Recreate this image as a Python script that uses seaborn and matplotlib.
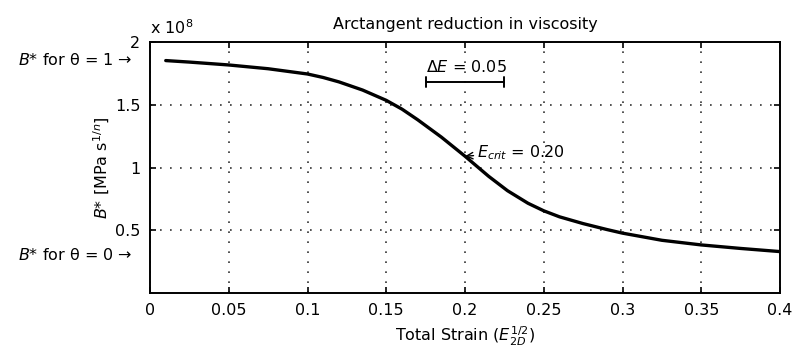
import numpy as np
import pandas as pd
import matplotlib
matplotlib.use("Agg")
import matplotlib.pyplot as plt
import seaborn as sns

# Data (B* in units of 1e8)
strain = [0.010, 0.025, 0.050, 0.075, 0.100, 0.110, 0.120, 0.135, 0.150, 0.160,
          0.170, 0.185, 0.200, 0.215, 0.227, 0.240, 0.250, 0.260, 0.275, 0.290,
          0.300, 0.325, 0.350, 0.375, 0.400]
bstar = [1.852, 1.840, 1.817, 1.787, 1.745, 1.717, 1.682, 1.617, 1.535, 1.465,
         1.380, 1.242, 1.090, 0.930, 0.815, 0.715, 0.655, 0.607, 0.553, 0.506,
         0.477, 0.420, 0.383, 0.355, 0.330]
xticks = [0, 0.05, 0.1, 0.15, 0.2, 0.25, 0.3, 0.35, 0.4]
xticklabels = ["0", "0.05", "0.1", "0.15", "0.2", "0.25", "0.3", "0.35", "0.4"]
yticks = [0.5, 1, 1.5, 2]
yticklabels = ["0.5", "1", "1.5", "2"]
theta1_level = 1.86
theta0_level = 0.30
e_crit = 0.20
e_crit_b = 1.09
delta_e = 0.05
delta_bar_y = 1.68

sns.set_style("ticks")
plt.rcParams['font.family'] = ['DejaVu Sans']
plt.rcParams['mathtext.fontset'] = 'dejavusans'
for k in ['text.color', 'axes.labelcolor', 'xtick.color', 'ytick.color']:
    plt.rcParams[k] = 'black'

fs = 11.5
fig = plt.figure(figsize=(7.94, 3.63), dpi=100)
ax = fig.add_axes([150/794, 1 - 293/363, 630/794, 251/363])

df = pd.DataFrame({"strain": strain, "bstar": bstar})
sns.lineplot(data=df, x="strain", y="bstar", ax=ax, color="black", linewidth=2.4)
ax.lines[0].set_solid_joinstyle("round")

ax.set_xlim(0, 0.4)
ax.set_ylim(0, 2)
ax.set_xticks(xticks)
ax.set_xticklabels(xticklabels, fontsize=fs)
ax.set_yticks(yticks)
ax.set_yticklabels(yticklabels, fontsize=fs)
ax.tick_params(direction="in", length=4, width=1.2, top=True, right=True, pad=7,
               colors="black")
for s in ax.spines.values():
    s.set_visible(True)
    s.set_color("black")
    s.set_linewidth(1.4)
ax.grid(True, linestyle=(0, (1, 5)), color="#333333", linewidth=1.2)

ax.set_xlabel(r"Total Strain ($E_{2D}^{1/2}$)", fontsize=fs, labelpad=5)
ax.set_ylabel(r"$B$* [MPa s$^{1/n}$]", fontsize=fs, labelpad=2)
ax.set_title("Arctangent reduction in viscosity", fontsize=fs, pad=9)

# offset text
ax.text(0.0, 1.02, r"x 10$^8$", transform=ax.transAxes, ha="left", va="bottom",
        fontsize=fs)

# left side annotations
ax.text(-0.028, theta1_level, r"$B$* for θ = 1 →", transform=ax.get_yaxis_transform(),
        ha="right", va="center", fontsize=fs, clip_on=False)
ax.text(-0.028, theta0_level, r"$B$* for θ = 0 →", transform=ax.get_yaxis_transform(),
        ha="right", va="center", fontsize=fs, clip_on=False)

# Delta E bar
x0 = e_crit - delta_e / 2
x1 = e_crit + delta_e / 2
ax.plot([x0, x1], [delta_bar_y, delta_bar_y], color="black", linewidth=1.4)
ax.plot([x0, x0], [delta_bar_y - 0.04, delta_bar_y + 0.04], color="black", linewidth=1.4)
ax.plot([x1, x1], [delta_bar_y - 0.04, delta_bar_y + 0.04], color="black", linewidth=1.4)
ax.text(x0, delta_bar_y + 0.06, r"Δ$E$ = 0.05", ha="left", va="bottom", fontsize=fs)

# E_crit annotation
ax.annotate(r"$E_{crit}$ = 0.20", xy=(e_crit, e_crit_b), xytext=(e_crit + 0.0075, e_crit_b + 0.03),
            ha="left", va="center", fontsize=fs,
            arrowprops=dict(arrowstyle="->", color="black", lw=1.0,
                            shrinkA=0, shrinkB=0))

fig.savefig("out.png", dpi=100)
